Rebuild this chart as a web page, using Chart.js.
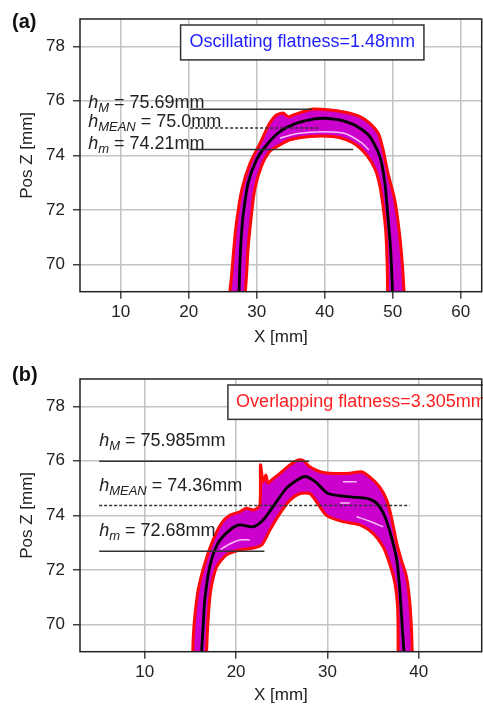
<!DOCTYPE html>
<html>
<head>
<meta charset="utf-8">
<script src="https://cdn.jsdelivr.net/npm/chart.js@4.4.0/dist/chart.umd.min.js"></script>
<style>
  html, body { margin: 0; padding: 0; background: #fff; }
  #wrap { position: relative; width: 483px; height: 706px; }
  canvas { position: absolute; left: 0; }
  #chartA { top: 0; }
  #chartB { top: 350px; }
</style>
</head>
<body>
<div id="wrap">
  <canvas id="chartA" width="483" height="350"></canvas>
  <canvas id="chartB" width="483" height="356"></canvas>
</div>
<script>
const FONT = '"Liberation Sans", Arial, sans-serif';

// shared
const yTicks = [70, 72, 74, 76, 78];
const hNames = ['M', 'MEAN', 'm'];

// (a) oscillating
const xTicksA = [10, 20, 30, 40, 50, 60];
const outerA = [[26.0,68.9],[26.3,69.6],[26.6,70.5],[27.0,71.5],[27.8,72.74],[29.0,73.7],[30.5,74.45],[31.9,75.18],[32.9,75.48],[33.9,75.55],[34.6,75.42],[35.4,75.48],[36.8,75.6],[38.3,75.7],[39.5,75.69],[41.2,75.65],[43.2,75.57],[45.2,75.42],[46.6,75.18],[47.9,74.8],[48.6,74.2],[49.3,73.36],[50.3,72.37],[51.0,71.15],[51.45,69.93],[51.7,68.9]];
const innerA = [[28.3,68.9],[28.5,69.6],[28.7,70.5],[29.0,71.3],[29.7,72.74],[30.7,73.6],[31.9,74.14],[33.4,74.38],[34.9,74.57],[37.8,74.69],[41.2,74.69],[43.2,74.57],[44.7,74.37],[46.2,74.0],[47.4,73.5],[48.1,72.9],[48.6,72.1],[49.0,71.15],[49.2,69.93],[49.25,68.9]];
const meanA = [[27.4,68.9],[27.5,69.9],[27.7,70.9],[28.0,71.8],[28.75,73.0],[30.0,73.85],[31.45,74.38],[33.4,74.87],[35.9,75.18],[38.3,75.33],[40.0,75.36],[41.3,75.33],[42.5,75.28],[44.7,75.07],[46.6,74.7],[48.1,73.97],[48.85,73.0],[49.3,71.77],[49.7,70.55],[50.0,68.9]];
const streaksA = [
  [[33.4,74.63],[36.0,74.8],[39.8,74.87],[43.0,74.8],[45.5,74.45],[46.5,74.2]]
];
const hLevelsA = [75.69, 75.0, 74.21];
const hTextA = ['75.69mm', '75.0mm', '74.21mm'];
const hFromA = [20.2, 20.2, 20.2];
const hToA = [38.1, 39.2, 44.2];
const flatTextA = 'Oscillating flatness=1.48mm';

// (b) overlapping
const xTicksB = [10, 20, 30, 40];
const outerB = [[15.25,68.9],[15.3,69.5],[15.47,70.28],[15.84,71.26],[16.57,72.24],[17.48,73.1],[18.4,73.71],[19.3,74.0],[20.4,74.13],[21.1,74.26],[22.0,74.2],[22.6,74.38],[22.67,75.85],[22.96,75.23],[23.25,75.48],[23.5,75.18],[23.9,75.3],[24.8,75.54],[25.9,75.85],[26.8,76.03],[27.4,76.0],[28.07,75.78],[29.2,75.6],[30.26,75.54],[32.45,75.54],[33.7,75.6],[34.6,75.42],[35.7,75.05],[36.5,74.56],[37.0,73.95],[37.6,72.97],[38.1,72.36],[38.66,71.75],[39.0,70.9],[39.2,69.9],[39.3,68.9]];
const innerB = [[16.75,68.9],[16.9,70.0],[17.2,71.2],[17.85,72.1],[18.95,72.55],[20.4,72.73],[21.86,72.8],[22.8,72.91],[23.7,73.46],[24.8,74.07],[25.9,74.56],[27.0,74.8],[28.07,74.8],[28.8,74.5],[29.9,74.0],[31.7,73.77],[33.55,73.65],[35.0,73.34],[36.1,72.85],[36.8,72.24],[37.4,71.5],[37.7,70.52],[37.75,68.9]];
const meanB = [[16.2,68.9],[16.4,70.0],[16.57,70.9],[17.1,72.1],[18.0,72.97],[19.3,73.46],[20.4,73.65],[21.86,73.58],[22.96,73.83],[24.05,74.32],[25.5,74.99],[27.0,75.36],[27.7,75.42],[28.8,75.2],[30.07,74.8],[32.45,74.68],[34.3,74.62],[35.4,74.44],[36.3,73.95],[37.0,73.22],[37.6,72.36],[37.93,71.26],[38.2,69.9],[38.4,68.9]];
const streaksB = [
  [[18.3,72.75],[19.3,72.95],[20.4,73.1],[21.5,73.1]],
  [[33.2,73.95],[34.5,73.8],[36.1,73.58]],
  [[31.4,74.45],[32.45,74.45]],
  [[31.7,75.23],[33.2,75.23]]
];
const hLevelsB = [75.985, 74.36, 72.68];
const hTextB = ['75.985mm', '74.36mm', '72.68mm'];
const hFromB = [5.0, 5.0, 5.0];
const hToB = [28.0, 39.0, 23.1];
const flatTextB = 'Overlapping flatness=3.305mm';

Chart.defaults.font.family = FONT;
Chart.defaults.color = '#222';

function pts(arr) {
  return arr.map(([x, y]) => ({ x, y }));
}

function decor(p) {
  return {
    id: 'decor',
    afterDatasetsDraw(chart) {
      const { ctx, chartArea: a, scales: { x, y } } = chart;
      ctx.save();
      // h labels
      p.levels.forEach((lv, i) => {
        let px = x.getPixelForValue(p.labelX);
        const py = y.getPixelForValue(lv) - p.labelLift;
        ctx.fillStyle = '#222';
        ctx.textBaseline = 'alphabetic';
        ctx.textAlign = 'left';
        ctx.font = 'italic 18px ' + FONT;
        ctx.fillText('h', px, py);
        px += ctx.measureText('h').width;
        ctx.font = 'italic 13px ' + FONT;
        ctx.fillText(hNames[i], px, py + 4);
        px += ctx.measureText(hNames[i]).width;
        ctx.font = '18px ' + FONT;
        ctx.fillText(' = ' + p.texts[i], px, py);
      });
      // flatness box
      const bx0 = x.getPixelForValue(p.box[0]), bx1 = x.getPixelForValue(p.box[1]);
      const by0 = y.getPixelForValue(p.box[2]), by1 = y.getPixelForValue(p.box[3]);
      ctx.fillStyle = '#fff';
      ctx.fillRect(bx0, by0, bx1 - bx0, by1 - by0);
      ctx.strokeStyle = '#333';
      ctx.lineWidth = 1.5;
      ctx.strokeRect(bx0, by0, bx1 - bx0, by1 - by0);
      ctx.fillStyle = p.flatColor;
      ctx.font = '18px ' + FONT;
      ctx.textBaseline = 'middle';
      ctx.fillText(p.flatText, x.getPixelForValue(p.flatX), (by0 + by1) / 2);
      // frame
      ctx.strokeStyle = '#222';
      ctx.lineWidth = 1.5;
      ctx.strokeRect(a.left, a.top, a.right - a.left, a.bottom - a.top);
      ctx.restore();
    },
    afterDraw(chart) {
      const ctx = chart.ctx;
      ctx.save();
      ctx.fillStyle = '#111';
      ctx.font = 'bold 20px ' + FONT;
      ctx.textBaseline = 'middle';
      ctx.textAlign = 'left';
      ctx.fillText(p.letter, 12, p.letterY);
      ctx.restore();
    }
  };
}

function makePanel(id, p) {
  const hSets = p.levels.map((lv, i) => ({
    data: [{ x: p.from[i], y: lv }, { x: p.to[i], y: lv }],
    borderColor: '#333',
    borderWidth: 1.5,
    borderDash: i === 1 ? [3, 2] : [],
    tension: 0,
    order: 0
  }));
  const datasets = [
    ...hSets,
    { data: pts(p.mean), borderColor: '#000', borderWidth: 2.8, order: 1 },
    { data: pts(p.outer), borderColor: '#ff0a0a', borderWidth: 3, order: 2 },
    { data: pts(p.inner), borderColor: '#ff0a0a', borderWidth: 3, order: 2 },
    ...p.streaks.map(s => ({ data: pts(s), borderColor: 'rgba(255,215,255,0.9)', borderWidth: 1.5, order: 3 })),
    {
      data: pts(p.outer.concat(p.inner.slice().reverse())),
      borderColor: '#cc00cc', borderWidth: 1,
      backgroundColor: '#cc00cc', fill: 'shape', tension: 0, order: 4
    }
  ];

  return new Chart(document.getElementById(id), {
    type: 'scatter',
    data: { datasets },
    options: {
      responsive: false,
      animation: false,
      layout: { padding: p.pad },
      datasets: {
        scatter: { showLine: true, pointRadius: 0, tension: 0.25, clip: 0 }
      },
      plugins: { legend: { display: false }, tooltip: { enabled: false } },
      scales: {
        x: {
          type: 'linear', min: p.xMin, max: p.xMax,
          afterBuildTicks: s => { s.ticks = p.xTicks.map(v => ({ value: v })); },
          afterFit: s => { s.height = p.xAxisH; },
          grid: { color: '#c4c4c4', lineWidth: 1.5, tickLength: 7, tickColor: '#444', tickWidth: 1.5 },
          border: { display: false },
          ticks: { font: { size: 17 }, color: '#222', padding: 3, maxRotation: 0 },
          title: { display: true, text: 'X [mm]', font: { size: 17 }, color: '#222', padding: { top: 0, bottom: p.xTitlePad } }
        },
        y: {
          type: 'linear', min: 69, max: 79,
          afterBuildTicks: s => { s.ticks = yTicks.map(v => ({ value: v })); },
          afterFit: s => { s.width = 80; },
          grid: { color: '#c4c4c4', lineWidth: 1.5, tickLength: 7, tickColor: '#444', tickWidth: 1.5 },
          border: { display: false },
          ticks: { font: { size: 17 }, color: '#222', padding: 8 },
          title: { display: true, text: 'Pos Z [mm]', font: { size: 17 }, color: '#222', padding: { top: 17, bottom: 0 } }
        }
      }
    },
    plugins: [decor(p)]
  });
}

makePanel('chartA', {
  letter: '(a)', letterY: 22,
  xTicks: xTicksA, xMin: 4, xMax: 63.1,
  pad: { top: 19, right: 1.3, bottom: 0, left: 0 },
  xAxisH: 58.3, xTitlePad: 2,
  outer: outerA, inner: innerA, mean: meanA, streaks: streaksA,
  levels: hLevelsA, texts: hTextA, from: hFromA, to: hToA,
  labelX: 5.2, labelLift: 1,
  box: [18.8, 54.6, 78.78, 77.5], flatX: 20.1,
  flatText: flatTextA, flatColor: '#1e1eff'
});

makePanel('chartB', {
  letter: '(b)', letterY: 25,
  xTicks: xTicksB, xMin: 2.9, xMax: 46.9,
  pad: { top: 29, right: 1.3, bottom: 0, left: 0 },
  xAxisH: 54.3, xTitlePad: 0,
  outer: outerB, inner: innerB, mean: meanB, streaks: streaksB,
  levels: hLevelsB, texts: hTextB, from: hFromB, to: hToB,
  labelX: 5.0, labelLift: 15,
  box: [19.1, 50, 78.78, 77.52], flatX: 20.0,
  flatText: flatTextB, flatColor: '#ff1e1e'
});
</script>
</body>
</html>
